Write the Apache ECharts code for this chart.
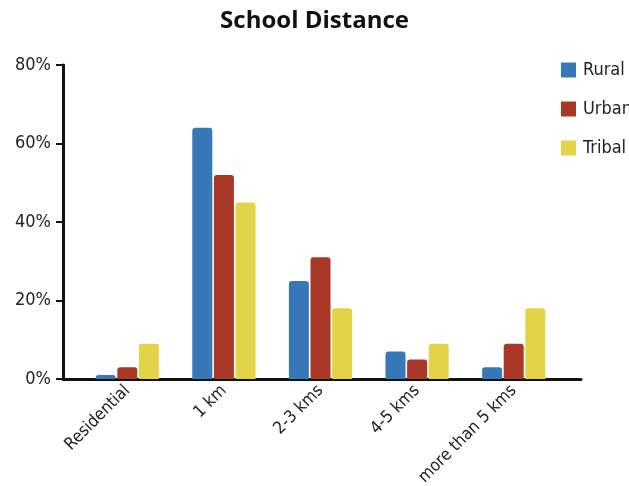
<!DOCTYPE html>
<html><head><meta charset="utf-8">
<script src="https://cdn.jsdelivr.net/npm/echarts@6/dist/echarts.min.js"></script>
<style>html,body{margin:0;padding:0;background:#fff}#c{width:629px;height:486px}</style>
</head><body><div id="c"></div>
<script>
var categories = ['Residential', '1 km', '2-3 kms', '4-5 kms', 'more than 5 kms'];
var rural = [1, 64, 25, 7, 3];
var urban = [3, 52, 31, 5, 9];
var tribal = [9, 45, 18, 9, 18];
var yTicks = [0, 20, 40, 60, 80];

var FONT = '"DejaVu Sans Condensed", "Roboto Condensed", Roboto, sans-serif';
var chart = echarts.init(document.getElementById('c'));
var barStyle = function (c) { return { color: c, borderRadius: [3, 3, 0, 0] }; };
chart.setOption({
  animation: false,
  backgroundColor: '#fff',
  title: {
    text: 'School Distance', left: 'center', top: 4,
    textStyle: { fontFamily: 'Open Sans', fontWeight: 'bold', fontSize: 24, color: '#111' }
  },
  legend: {
    orient: 'vertical', left: 556, top: 56, itemWidth: 15, itemHeight: 15, itemGap: 21,
    icon: 'rect',
    textStyle: { fontFamily: FONT, fontSize: 18, color: '#222', padding: [0, 0, 0, 2] },
    data: ['Rural', 'Urban', 'Tribal']
  },
  grid: [
    { left: 63, right: 48, top: 65, bottom: 107, containLabel: false, outerBoundsMode: 'none' },
    { left: 79, right: 67, top: 65, bottom: 107, containLabel: false, outerBoundsMode: 'none' }
  ],
  xAxis: [
    { type: 'value', gridIndex: 0, min: 0, max: 1, show: true,
      axisLine: { show: true, lineStyle: { color: '#111', width: 3 } },
      axisTick: { show: false }, axisLabel: { show: false }, splitLine: { show: false } },
    { type: 'category', gridIndex: 1, data: categories,
      axisLine: { show: false }, axisTick: { show: false },
      axisLabel: { rotate: 45, margin: 9, fontFamily: FONT, fontSize: 17, color: '#222', interval: 0 } }
  ],
  yAxis: [
    { type: 'value', gridIndex: 0, min: yTicks[0], max: yTicks[yTicks.length - 1], interval: 20,
      axisLine: { show: true, lineStyle: { color: '#111', width: 3 } },
      axisTick: { show: true, inside: false, length: 7, lineStyle: { color: '#111', width: 2 } },
      axisLabel: { formatter: '{value}%', margin: 12, fontFamily: FONT, fontSize: 18, color: '#222' },
      splitLine: { show: false } },
    { type: 'value', gridIndex: 1, min: yTicks[0], max: yTicks[yTicks.length - 1], show: false,
      splitLine: { show: false } }
  ],
  series: [
    { name: 'Rural', type: 'bar', xAxisIndex: 1, yAxisIndex: 1, data: rural, barWidth: 20, barGap: '8%', itemStyle: barStyle('#3779b8') },
    { name: 'Urban', type: 'bar', xAxisIndex: 1, yAxisIndex: 1, data: urban, barWidth: 20, barGap: '8%', itemStyle: barStyle('#a93826') },
    { name: 'Tribal', type: 'bar', xAxisIndex: 1, yAxisIndex: 1, data: tribal, barWidth: 20, barGap: '8%', itemStyle: barStyle('#e3d346') }
  ]
});
</script></body></html>
